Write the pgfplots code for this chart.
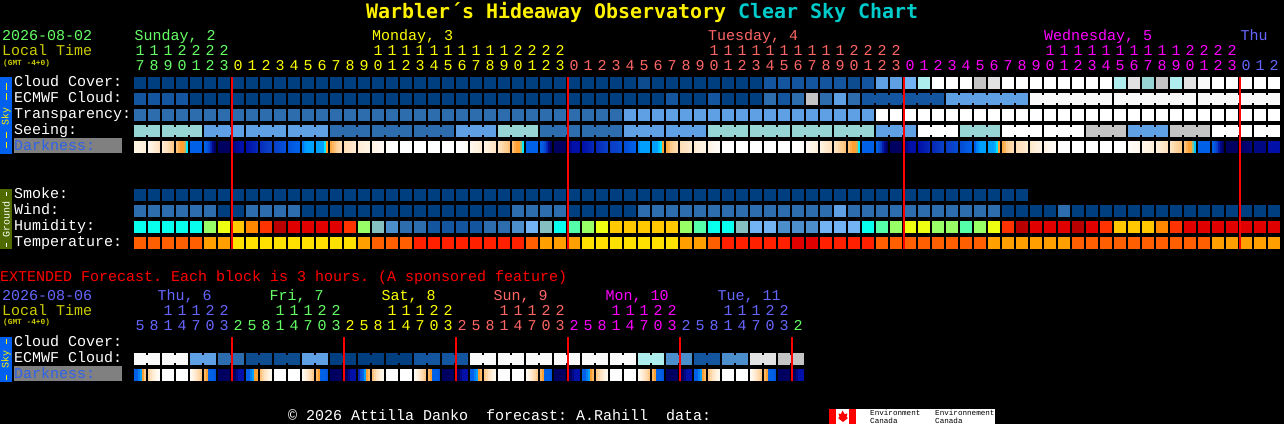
\documentclass[border=0pt]{standalone}
\usepackage{fontspec}
\usepackage{pgfplots}
\usepackage{pgfplotstable}
\pgfplotsset{compat=1.18}
\setmainfont{Liberation Mono}
\newfontfamily\titlefont{DejaVu Sans Mono}

% cloud / sky blocks
\definecolor{ca}{HTML}{003F7F}
\definecolor{cp}{HTML}{0E4C90}
\definecolor{cb}{HTML}{13569F}
\definecolor{cc}{HTML}{2D6DAE}
\definecolor{cd}{HTML}{4C8DCC}
\definecolor{ce}{HTML}{5F9FE3}
\definecolor{cf}{HTML}{74B3F3}
\definecolor{cg}{HTML}{97D5D5}
\definecolor{ch}{HTML}{ADEDED}
\definecolor{cw}{HTML}{FFFFFF}
\definecolor{cW}{HTML}{F9F9F9}
\definecolor{ci}{HTML}{E2E2E2}
\definecolor{cj}{HTML}{C4C4C4}
% humidity
\definecolor{cQ}{HTML}{08FFEE}
\definecolor{cM}{HTML}{55FFAA}
\definecolor{cL}{HTML}{99FF66}
\definecolor{cY}{HTML}{EEFF11}
\definecolor{cG}{HTML}{FFC800}
\definecolor{cO}{HTML}{FF8800}
\definecolor{cR}{HTML}{FF3300}
\definecolor{cr}{HTML}{E00000}
\definecolor{cD}{HTML}{B80000}
\definecolor{cT}{HTML}{85BFBF}
% temperature
\definecolor{cy}{HTML}{FFE000}
\definecolor{co}{HTML}{FFA000}
\definecolor{ck}{HTML}{FF5F00}
\definecolor{cs}{HTML}{FF2000}
% text
\definecolor{dayg}{HTML}{66FF66}
\definecolor{dayy}{HTML}{FFFF00}
\definecolor{dayr}{HTML}{FF6666}
\definecolor{daym}{HTML}{FF00FF}
\definecolor{dayb}{HTML}{6666FF}
\definecolor{loc}{HTML}{CCCC00}
\definecolor{darktext}{HTML}{2F62E8}
\definecolor{skybar}{HTML}{0060F0}
\definecolor{gndbar}{HTML}{4F6B00}

\pgfdeclareplotmark{cell}{\pgfpathrectangle{\pgfpoint{-6pt}{-6pt}}{\pgfpoint{12pt}{12pt}}\pgfusepathqfill}
\pgfdeclareplotmark{bridge}{\pgfpathrectangle{\pgfpoint{-1.2pt}{-4pt}}{\pgfpoint{2.4pt}{8pt}}\pgfusepathqfill}
\pgfdeclareplotmark{strip}{\pgfpathrectangle{\pgfpoint{-1pt}{-6pt}}{\pgfpoint{2.3pt}{12pt}}\pgfusepathqfill}
% the midnight lines have to lie over the blocks, and marks are drawn after lines
\pgfdeclareplotmark{redlong}{\pgfpathrectangle{\pgfpoint{-1.1pt}{-86pt}}{\pgfpoint{2.2pt}{172pt}}\pgfusepathqfill}
\pgfdeclareplotmark{redshort}{\pgfpathrectangle{\pgfpoint{-1.1pt}{-22pt}}{\pgfpoint{2.2pt}{44pt}}\pgfusepathqfill}

\pgfplotsset{
  blocks/.style={scatter, only marks, mark=cell, forget plot,
    point meta=explicit symbolic,
    scatter/classes={a={ca},p={cp},b={cb},c={cc},d={cd},e={ce},f={cf},g={cg},h={ch},
      w={cw},W={cW},i={ci},j={cj},Q={cQ},M={cM},L={cL},Y={cY},G={cG},O={cO},R={cR},
      r={cr},D={cD},T={cT},y={cy},o={co},k={ck},s={cs}}},
  strips/.style={scatter, only marks, mark=strip, forget plot,
    point meta=explicit, point meta min=0, point meta max=10,
    scatter/use mapped color={fill=mapped color, draw=none}},
}
\tikzset{
  txt/.style={anchor=base west, inner sep=0pt, font=\fontsize{15}{15}\selectfont},
  lbl/.style={txt, text=white},
  dig/.style={anchor=base, inner sep=0pt, font=\fontsize{15}{15}\selectfont},
  small/.style={anchor=base west, inner sep=0pt, text=loc, font=\bfseries\fontsize{7.8}{8}\selectfont},
  flagtxt/.style={anchor=base west, inner sep=0pt, text=black, font=\fontsize{7.6}{8}\selectfont},
}
% colour, index of first cell, baseline, digits
\newcommand{\digits}[4]{%
  \foreach \d [count=\n from #2] in {#4} {%
    \pgfmathsetmacro{\xx}{140+14*\n}%
    \edef\tmp{\noexpand\node[dig,text=#1] at (axis cs:\xx,#3) {\d};}\tmp}}

% one line per hour block
\pgfplotstableread{
cloud ecmwf transp seeing smoke wind humid temp
a b c g a c Q k
a b c g a c Q k
a b c g a c Q k
a b c g a c Q k
a a c g a c Q k
a a c e a c L o
a a c e a a Y o
a a c e a a G y
a a c e a c O y
a a c e a c R y
a a c e a c D y
a a c e a c r y
a a c e a a r y
a a c e a a r y
a a c c a a r y
a a c c a a R y
a a c c a a L o
a a c c a a T k
a a c c a a d k
a a c c a a c k
a a c c a a c s
a a c c a a b s
a a c c a a b s
a a c e a a b s
a a c e a a b s
a a c e a a c s
a a c g a a c s
a a c g a c d s
a a c g a c f k
a a c c a c T o
a a c c a c Q o
a a c c a a M o
a a c c a a L y
a a c c a a Y y
a a c c a a G y
a a e e a a G y
p a e e a c G y
a a e e a c G y
a b e e a c G y
a a e e a c L o
a a e e a c M o
a b e g a c Q k
a a e g a c Q s
a a e g a c T s
a a e g a c f s
b c e g a c f s
b b e g a c d s
b c e g a c d r
b j e g a c d r
b c e g a c f s
b e e g a e f s
p c e g a c f s
b b e g a c Q s
e b w e a c M k
e b w e a c L k
f b w e a c Y k
h b w w a c Y k
w b w w a c L k
w e w w a c L k
w e w g a c M k
j e w g a c L k
i e w g a c Y o
w e w w a a R o
w e w w a a D o
w W w w - a r o
w W w w - a r o
w W w w - c r o
w W w w - a D k
w W w j - a r k
w W w j - a R k
h W w j - a G k
i W w e - a G k
g W w e - a G k
j W w e - a O k
h W w j - a R k
i W w j - a r k
W W w j - a r k
w W w w - a r o
w W w w - a r o
w W w w - a r o
w W w w - a r o
w W w w - a r o
}\hourly

% darkness: six strips of two pixels in each block
\pgfplotstableread{
s0 s1 s2 s3 s4 s5
1 1 1 1 1.2 1.2
.8 1 1.2 1.5 1.7 2
1.5 1.8 2 2.3 2.7 3
3.2 3.6 4 4 4.2 5
7 7 7 7 7 7
7 7.3 7.8 8.5 9.5 10
10 10 10 10 10 10
9.8 9.5 9.3 9.2 9 9
9 8.9 8.8 8.7 8.6 8.5
8.4 8.3 8.2 8.1 8 8
8 7.9 7.8 7.7 7.6 7.5
7.4 7.3 7.2 7.1 7 7
6.6 6.2 6 6 6 6
6 6 6 6 5 4
3.8 3.5 3.2 2.8 2.5 2.3
2.2 2 2 1.8 1.7 1.5
1.4 1.3 1.2 1.1 1 1
1 .8 .8 .6 .5 .5
.3 .2 .1 0 0 0
0 0 0 0 0 0
0 0 0 0 0 0
0 0 0 0 0 0
0 0 0 0 0 0
0 0 0 .1 .2 .3
.6 .8 1 1 1.2 1.4
1 1.2 1.4 1.5 1.7 1.8
2 2.2 2.5 2.8 3 3.2
3.3 3.7 4 4 4.3 5
7 7 7 7 7 7
7 7.3 7.8 8.5 9.5 10
10 10 10 10 10 10
9.8 9.3 9 9 9 9
9 8.9 8.8 8.7 8.6 8.5
8.5 8.4 8.3 8.2 8.1 8
8.1 8 8 7.9 7.8 7.7
7.6 7.5 7.4 7.2 7.1 7
6.3 6 6 6 6 6
6 6 6 5.5 5 4
3.8 3.5 3 2.7 2.5 2.3
2.2 2 2 1.8 1.7 1.5
1.5 1.3 1.2 1.1 1 1
1 .8 .6 .5 .4 .3
0 0 0 0 0 0
0 0 0 0 0 0
0 0 0 0 0 0
0 0 0 0 0 0
0 0 0 0 0 0
0 0 0 .1 .2 .3
.5 .7 .8 1 1 1.2
1 1.3 1.5 1.7 1.9 2
2 2.2 2.5 2.8 3 3.2
3.3 3.7 4 4 4.2 5
7 7 7 7 7 7
7 7.5 8 8.8 9.5 10
10 10 10 10 10 10
9.8 9.5 9.2 9 9 9
9 8.9 8.8 8.7 8.6 8.5
8.5 8.4 8.3 8.2 8.1 8
8.1 8 8 7.9 7.8 7.7
7.6 7.5 7.4 7.2 7.1 7
7 6.5 6.2 6 6 6
6 6 6 5.8 5 4
3.8 3.5 3 2.7 2.5 2.3
2.2 2 2 1.8 1.7 1.5
1.7 1.5 1.3 1.2 1.1 1
1 .8 .6 .5 .4 .3
0 0 0 0 0 0
0 0 0 0 0 0
0 0 0 0 0 0
0 0 0 0 0 0
0 0 0 0 0 0
.2 .3 .4 .5 .5 .6
.8 .9 1 1 1.1 1.2
1.2 1.4 1.5 1.7 1.9 2
2 2.2 2.5 2.7 2.9 3
3.2 3.6 4 4 4.5 5.5
7 7 7 7 7 7
7 7.5 8 8.8 9.5 10
10 10 10 10 10 10
10 10 9.8 9.8 9.8 9.6
9.5 9.5 9.5 9.5 9.5 9.5
9 9 9 9 9 9
}\hourdark

% extended forecast, three hours per block
\pgfplotstableread{
ecmwf s0 s1 s2 s3 s4 s5
W 7 7 6.5 6 4 3
W 2.5 2 1.5 1 .5 .3
W 0 0 0 0 0 0
W 0 0 0 0 0 0
e .5 1 1.5 2 2.5 3
e 3.5 4 7 7 7 7.3
c 10 10 10 10 10 10
c 10 10 9.5 9 9 9
p 7 7 6.5 6 4 4
p 3.2 2.5 2 1.5 1 .7
p 0 0 0 0 0 0
p 0 0 0 0 0 0
e .5 1 1.5 2 2.5 3
e 3.5 4 7 7 7 7.3
a 10 10 10 10 10 10
a 10 10 9.5 9 9 9
a 8.5 7.5 7 6 4 3.5
a 3.2 2.5 2 1.5 1 .7
a 0 0 0 0 0 0
a 0 0 0 0 0 0
b .5 1 1.5 2 2.5 3
b 3.5 4 7 7 7 7.3
b 10 10 10 10 10 10
b 10 10 9.5 9 9 9
W 7 7 6.5 6 4 3.5
W 3 2.5 2 1.5 1 .7
W 0 0 0 0 0 0
W 0 0 0 0 0 0
W .5 1 1.5 2 2.5 3
W 3.5 4 7 7 7 7.3
W 10 10 10 10 10 10
W 10 10 9.5 9 9 9
W 7 7 6.5 6 4 3.5
W 3 2.5 2 1.5 1 .7
W 0 0 0 0 0 0
W 0 0 0 0 0 0
h .5 1 1.5 2 2.5 3
h 3.5 4 7 7 7 7.3
d 10 10 10 10 10 10
d 10 10 9.5 9 9 9
b 7 7 6.5 6 4 3.5
b 3 2.5 2 1.5 1 .7
d 0 0 0 0 0 0
d 0 0 0 0 0 0
i .5 1 1.5 2 2.5 3
i 3.5 4 7 7 7 7.3
j 10 10 10 10 10 10
j 10 10 9.5 9 9 9
}\extended

\begin{document}
\frenchspacing
\begin{tikzpicture}
\useasboundingbox (0,0) rectangle (1284pt,424pt);
\begin{axis}[
  scale only axis,
  width=1284pt, height=424pt,
  xmin=0, xmax=1284, ymin=0, ymax=424,
  y dir=reverse,
  clip=false,
  ticks=none,
  axis line style={draw=none},
  axis background/.style={fill=black},
  colormap={darkness}{rgb255(0)=(255,255,255) rgb255(1)=(255,243,226) rgb255(2)=(255,226,191)
    rgb255(3)=(255,203,140) rgb255(4)=(255,160,48) rgb255(5)=(0,232,255) rgb255(6)=(0,160,255)
    rgb255(7)=(0,96,232) rgb255(8)=(10,64,200) rgb255(9)=(0,16,168) rgb255(10)=(0,0,96)},
]
% side bars and the grey label behind Darkness
\fill[skybar] (axis cs:0,77) rectangle (axis cs:12,154);
\fill[gndbar] (axis cs:0,189) rectangle (axis cs:12,249);
\fill[skybar] (axis cs:0,337) rectangle (axis cs:12,382);
\fill[gray] (axis cs:14,138) rectangle (axis cs:122,153);
\fill[gray] (axis cs:14,366) rectangle (axis cs:122,381);
\draw[yellow] (axis cs:6,83)--(axis cs:6,90) (axis cs:6,93)--(axis cs:6,100)
  (axis cs:6,132)--(axis cs:6,138) (axis cs:6,142)--(axis cs:6,148)
  (axis cs:6,339)--(axis cs:6,344) (axis cs:6,375)--(axis cs:6,380);
\draw[white] (axis cs:6,192)--(axis cs:6,196) (axis cs:6,243)--(axis cs:6,247);
\node[rotate=90,inner sep=0pt,text=yellow,font=\fontsize{10}{10}\selectfont] at (axis cs:6,116) {Sky};
\node[rotate=90,inner sep=0pt,text=white,font=\fontsize{10}{10}\selectfont] at (axis cs:6,219) {Ground};
\node[rotate=90,inner sep=0pt,text=yellow,font=\fontsize{10}{10}\selectfont] at (axis cs:6,359) {Sky};

% hourly blocks
\addplot[blocks] table[x expr=140+14*\coordindex, y expr=83, meta=cloud] {\hourly};
\addplot[blocks] table[x expr=140+14*\coordindex, y expr=99, meta=ecmwf] {\hourly};
\addplot[blocks, mark=bridge] table[x expr={(\coordindex>51 && \coordindex<81 && mod(\coordindex,6)!=3) ? 147+14*\coordindex : nan}, y expr=99, meta=ecmwf] {\hourly};
\addplot[blocks] table[x expr=140+14*\coordindex, y expr=115, meta=transp] {\hourly};
\addplot[blocks] table[x expr=140+14*\coordindex, y expr=131, meta=seeing] {\hourly};
\addplot[blocks, mark=bridge] table[x expr={(\coordindex<81 && mod(\coordindex,3)!=1) ? 147+14*\coordindex : nan}, y expr=131, meta=seeing] {\hourly};
\addplot[blocks] table[x expr={\coordindex<64 ? 140+14*\coordindex : nan}, y expr=195, meta=smoke] {\hourly};
\addplot[blocks] table[x expr=140+14*\coordindex, y expr=211, meta=wind] {\hourly};
\addplot[blocks] table[x expr=140+14*\coordindex, y expr=227, meta=humid] {\hourly};
\addplot[blocks] table[x expr=140+14*\coordindex, y expr=243, meta=temp] {\hourly};
\pgfplotsinvokeforeach{0,...,5}{
  \addplot[strips] table[x expr=135+14*\coordindex+2*#1, y expr=147, meta=s#1] {\hourdark};
  \addplot[strips] table[x expr=135+14*\coordindex+2*#1, y expr=375, meta=s#1] {\extended};
}
% extended blocks
\addplot[blocks] table[x expr=140+14*\coordindex, y expr=359, meta=ecmwf] {\extended};
\addplot[blocks, mark=bridge] table[x expr={mod(\coordindex,2)==0 ? 147+14*\coordindex : nan}, y expr=359, meta=ecmwf] {\extended};

% midnight lines
\addplot[only marks, mark=redlong, red, forget plot] coordinates {(232,163) (568,163) (904,163) (1240,163)};
\addplot[only marks, mark=redshort, red, forget plot] coordinates {(232,359) (344,359) (456,359) (568,359) (680,359) (792,359)};

% title
\node[anchor=base west,inner sep=0pt,font=\titlefont\bfseries\fontsize{19.93}{20}\selectfont] at (axis cs:366,18)
  {\textcolor{yellow}{Warbler´s Hideaway Observatory} \textcolor[HTML]{00CCCC}{Clear Sky Chart}};

% header of the hourly part
\node[txt,text=dayg] at (axis cs:2,40) {2026-08-02};
\node[txt,text=loc] at (axis cs:2,55) {Local Time};
\node[small] at (axis cs:3,65) {(GMT -4+0)};
\node[txt,text=dayg] at (axis cs:134.5,40) {Sunday, 2};
\node[txt,text=dayy] at (axis cs:372,40) {Monday, 3};
\node[txt,text=dayr] at (axis cs:708,40) {Tuesday, 4};
\node[txt,text=daym] at (axis cs:1044,40) {Wednesday, 5};
\node[txt,text=dayb] at (axis cs:1240.5,40) {Thu};
\digits{dayg}{0}{55}{1,1,1,2,2,2,2}
\digits{dayy}{17}{55}{1,1,1,1,1,1,1,1,1,1,2,2,2,2}
\digits{dayr}{41}{55}{1,1,1,1,1,1,1,1,1,1,2,2,2,2}
\digits{daym}{65}{55}{1,1,1,1,1,1,1,1,1,1,2,2,2,2}
\digits{dayg}{0}{70}{7,8,9,0,1,2,3}
\digits{dayy}{7}{70}{0,1,2,3,4,5,6,7,8,9,0,1,2,3,4,5,6,7,8,9,0,1,2,3}
\digits{dayr}{31}{70}{0,1,2,3,4,5,6,7,8,9,0,1,2,3,4,5,6,7,8,9,0,1,2,3}
\digits{daym}{55}{70}{0,1,2,3,4,5,6,7,8,9,0,1,2,3,4,5,6,7,8,9,0,1,2,3}
\digits{dayb}{79}{70}{0,1,2}

\node[lbl] at (axis cs:14,86) {Cloud Cover:};
\node[lbl] at (axis cs:14,102) {ECMWF Cloud:};
\node[lbl] at (axis cs:14,118) {Transparency:};
\node[lbl] at (axis cs:14,134) {Seeing:};
\node[txt,text=darktext] at (axis cs:14,150) {Darkness:};
\node[lbl] at (axis cs:14,198) {Smoke:};
\node[lbl] at (axis cs:14,214) {Wind:};
\node[lbl] at (axis cs:14,230) {Humidity:};
\node[lbl] at (axis cs:14,246) {Temperature:};

\node[txt,text=red] at (axis cs:0,281) {EXTENDED Forecast. Each block is 3 hours. (A sponsored feature)};

% header of the extended part
\node[txt,text=dayb] at (axis cs:2,300) {2026-08-06};
\node[txt,text=loc] at (axis cs:2,315) {Local Time};
\node[small] at (axis cs:3,324) {(GMT -4+0)};
\node[txt,text=dayb] at (axis cs:157.5,300) {Thu, 6};
\node[txt,text=dayg] at (axis cs:269.5,300) {Fri, 7};
\node[txt,text=dayy] at (axis cs:381.5,300) {Sat, 8};
\node[txt,text=dayr] at (axis cs:493.5,300) {Sun, 9};
\node[txt,text=daym] at (axis cs:605.5,300) {Mon, 10};
\node[txt,text=dayb] at (axis cs:717.5,300) {Tue, 11};
\digits{dayb}{2}{315}{1,1,1,2,2}
\digits{dayg}{10}{315}{1,1,1,2,2}
\digits{dayy}{18}{315}{1,1,1,2,2}
\digits{dayr}{26}{315}{1,1,1,2,2}
\digits{daym}{34}{315}{1,1,1,2,2}
\digits{dayb}{42}{315}{1,1,1,2,2}
\digits{dayb}{0}{330}{5,8,1,4,7,0,3}
\digits{dayg}{7}{330}{2,5,8,1,4,7,0,3}
\digits{dayy}{15}{330}{2,5,8,1,4,7,0,3}
\digits{dayr}{23}{330}{2,5,8,1,4,7,0,3}
\digits{daym}{31}{330}{2,5,8,1,4,7,0,3}
\digits{dayb}{39}{330}{2,5,8,1,4,7,0,3}
\digits{dayg}{47}{330}{2}

\node[lbl] at (axis cs:14,346) {Cloud Cover:};
\node[lbl] at (axis cs:14,362) {ECMWF Cloud:};
\node[txt,text=darktext] at (axis cs:14,378) {Darkness:};

% footer and flag
\node[lbl] at (axis cs:288,420) {© 2026 Attilla Danko\ \ forecast: A.Rahill\ \ data:};
\fill[white] (axis cs:829,409) rectangle (axis cs:995,424);
\fill[red] (axis cs:829,409) rectangle (axis cs:836,424);
\fill[red] (axis cs:849,409) rectangle (axis cs:856,424);
\fill[red] (axis cs:842.5,410.5) -- (axis cs:844.5,414) -- (axis cs:847.5,413.5) -- (axis cs:846.5,417)
  -- (axis cs:848,418) -- (axis cs:843,422) -- (axis cs:838,418) -- (axis cs:839.5,417)
  -- (axis cs:838.5,413.5) -- (axis cs:841,414) -- cycle;
\node[flagtxt] at (axis cs:870,415.5) {Environment};
\node[flagtxt] at (axis cs:870,423) {Canada};
\node[flagtxt] at (axis cs:935,415.5) {Environnement};
\node[flagtxt] at (axis cs:935,423) {Canada};
\end{axis}
\end{tikzpicture}
\end{document}
